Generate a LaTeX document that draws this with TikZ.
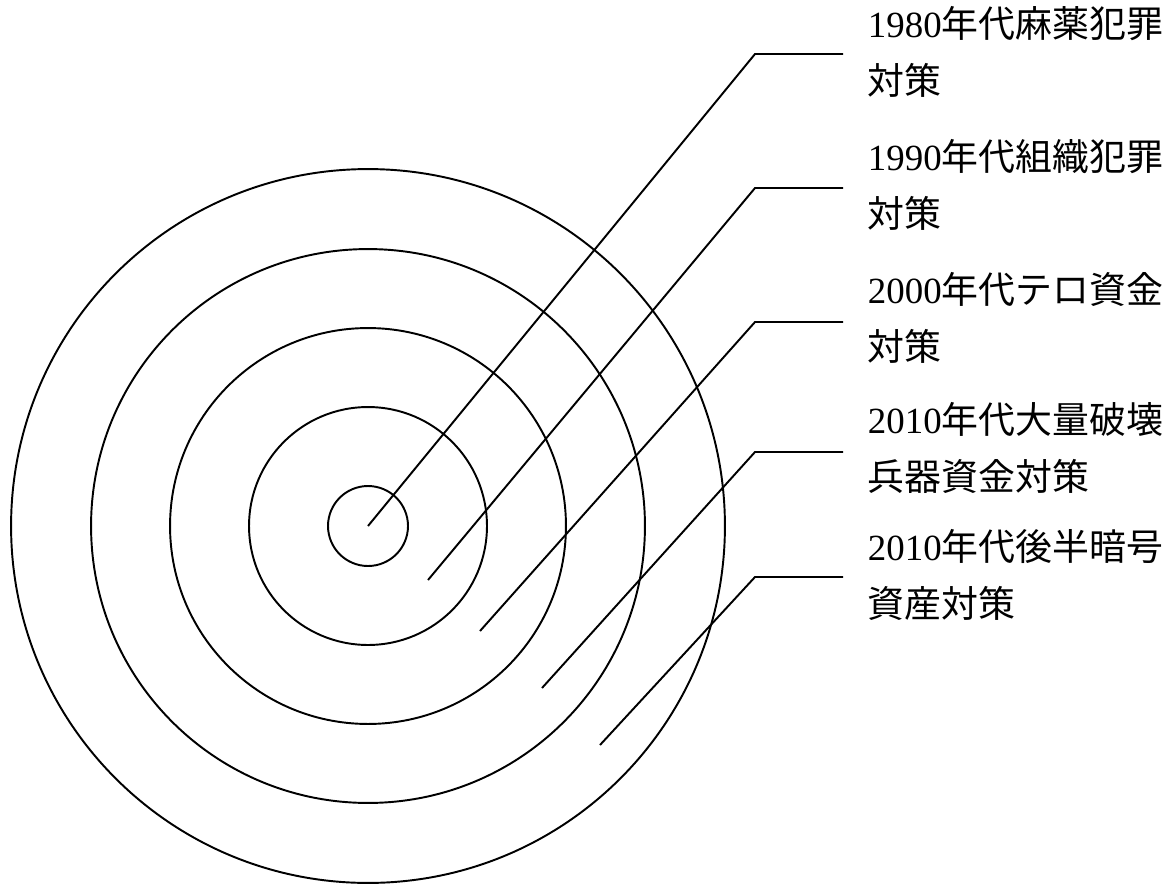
\documentclass[tikz,border=0pt]{standalone}
\usepackage{fontspec}
\setmainfont{Liberation Serif}
\newfontfamily\cjk{Noto Sans CJK JP}

\begin{document}
\begin{tikzpicture}[x=0.02cm, y=-0.02cm, line width=1.1pt,
		year/.style={right, inner xsep=0.48cm, inner ysep=0pt, align=left, font=\cjk\fontsize{21pt}{32pt}\selectfont}]
		\useasboundingbox (0,0) rectangle (1176,886);
		
		\coordinate (o) at (368,526);
		\draw (o) circle (0.8cm);
		\draw (o) circle (2.38cm);
		\draw (o) circle (3.96cm);
		\draw (o) circle (5.54cm);
		\draw (o) circle (7.14cm);
		
		% where the leaders start, one in each ring
		\coordinate (s1) at (o);
		\coordinate (s2) at (428,580);
		\coordinate (s3) at (480,631);
		\coordinate (s4) at (542,688);
		\coordinate (s5) at (600,745);
		
		% bends
		\coordinate (k1) at (755,54);
		\coordinate (k2) at (755,188);
		\coordinate (k3) at (755,322);
		\coordinate (k4) at (755,452);
		\coordinate (k5) at (755,577);
		
		\node[year] (t1) at (843,52) {{\rmfamily 1980}年代麻薬犯罪\\対策};
		\node[year] (t2) at (843,185) {{\rmfamily 1990}年代組織犯罪\\対策};
		\node[year] (t3) at (843,318) {{\rmfamily 2000}年代テロ資金\\対策};
		\node[year] (t4) at (843,448) {{\rmfamily 2010}年代大量破壊\\兵器資金対策};
		\node[year] (t5) at (843,575) {{\rmfamily 2010}年代後半暗号\\資産対策};
		
		\draw (s1) -- (k1) -- (k1 -| t1.west);
		\draw (s2) -- (k2) -- (k2 -| t2.west);
		\draw (s3) -- (k3) -- (k3 -| t3.west);
		\draw (s4) -- (k4) -- (k4 -| t4.west);
		\draw (s5) -- (k5) -- (k5 -| t5.west);
	\end{tikzpicture}
\end{document}
